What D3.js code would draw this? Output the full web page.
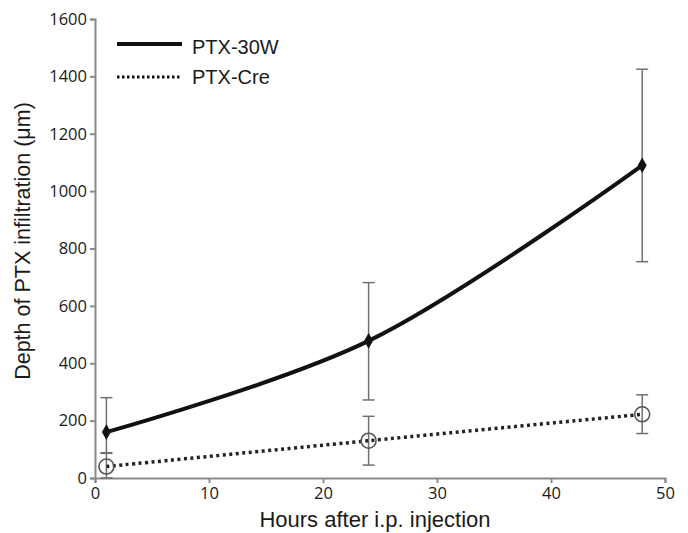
<!DOCTYPE html>
<html><head><meta charset="utf-8">
<script src="https://cdn.jsdelivr.net/npm/d3@7"></script>
<style>body{margin:0;background:#fff}svg{font-family:"Liberation Sans",Arial,sans-serif}</style>
</head><body><svg id="c" width="688" height="533"></svg>
<script>
const hours = [1, 24, 48];
const ptx30W = [160, 478, 1090];
const ptx30WUpper = [280, 681, 1425];
const ptx30WLower = [86, 272, 754];
const ptxCre = [40, 130, 222];
const ptxCreUpper = [88, 215, 290];
const ptxCreLower = [0, 45, 155];
const xTicks = [0, 10, 20, 30, 40, 50];
const yTicks = [0, 200, 400, 600, 800, 1000, 1200, 1400, 1600];
const seriesNames = ["PTX-30W", "PTX-Cre"];

const svg = d3.select("#c");
const x = d3.scaleLinear().domain([0, 50]).range([95, 665]);
const y = d3.scaleLinear().domain([0, 1600]).range([478, 19]);
const axisCol = "#8a8a8a";

const gx = svg.append("g").attr("transform", "translate(0,478)")
  .call(d3.axisBottom(x).tickValues(xTicks).tickFormat(d3.format("d")).tickSize(5).tickPadding(4));
const gy = svg.append("g").attr("transform", "translate(95,0)")
  .call(d3.axisLeft(y).tickValues(yTicks).tickFormat(d3.format("d")).tickSize(5).tickPadding(3));
[gx, gy].forEach(g => {
  g.selectAll("path,line").attr("stroke", axisCol).attr("stroke-width", 2);
  g.selectAll("text").attr("fill", "#1a1a1a").style("font-size", "16.5px")
   .style("font-family", "'Open Sans',Arial,sans-serif");
});

svg.append("text").attr("x", 375).attr("y", 527).attr("text-anchor", "middle")
  .style("font-size", "22px").attr("fill", "#1a1a1a").text("Hours after i.p. injection");
svg.append("text").attr("transform", "translate(30,241) rotate(-90)").attr("text-anchor", "middle")
  .style("font-size", "21.5px").attr("fill", "#1a1a1a").text("Depth of PTX infiltration (μm)");

function errBars(up, lo) {
  hours.forEach((h, i) => {
    const g = svg.append("g").attr("stroke", "#707070").attr("stroke-width", 1.5);
    g.append("line").attr("x1", x(h)).attr("x2", x(h)).attr("y1", y(up[i])).attr("y2", y(lo[i]));
    [up[i], lo[i]].forEach(v => g.append("line").attr("x1", x(h) - 6).attr("x2", x(h) + 6).attr("y1", y(v)).attr("y2", y(v)));
  });
}
errBars(ptx30WUpper, ptx30WLower);
errBars(ptxCreUpper, ptxCreLower);

const line30 = d3.line().x((d, i) => x(hours[i])).y(d => y(d)).curve(d3.curveCatmullRom.alpha(0.5));
svg.append("path").datum(ptx30W).attr("d", line30).attr("fill", "none")
  .attr("stroke", "#111").attr("stroke-width", 4);
const lineCre = d3.line().x((d, i) => x(hours[i])).y(d => y(d)).curve(d3.curveCatmullRom.alpha(0.5));
svg.append("path").datum(ptxCre).attr("d", lineCre).attr("fill", "none")
  .attr("stroke", "#222").attr("stroke-width", 3.5).attr("stroke-dasharray", "3,3.5");

svg.selectAll(".dia").data(ptx30W).enter().append("path")
  .attr("transform", (d, i) => `translate(${x(hours[i])},${y(d)})`)
  .attr("d", d3.symbol(d3.symbolDiamond, 70)()).attr("fill", "#111");
svg.selectAll(".circ").data(ptxCre).enter().append("circle")
  .attr("cx", (d, i) => x(hours[i])).attr("cy", d => y(d)).attr("r", 7.5)
  .attr("fill", "none").attr("stroke", "#555").attr("stroke-width", 1.6);

const leg = [{y: 44, ty: 54, dash: null, w: 4}, {y: 77, ty: 84, dash: "2.5,2.5", w: 3}];
leg.forEach((l, i) => {
  const ln = svg.append("line").attr("x1", 117).attr("x2", 182).attr("y1", l.y).attr("y2", l.y)
    .attr("stroke", "#111").attr("stroke-width", l.w);
  if (l.dash) ln.attr("stroke-dasharray", l.dash);
  svg.append("text").attr("x", 192).attr("y", l.ty).style("font-size", "20px").attr("fill", "#1a1a1a").text(seriesNames[i]);
});
</script></body></html>
